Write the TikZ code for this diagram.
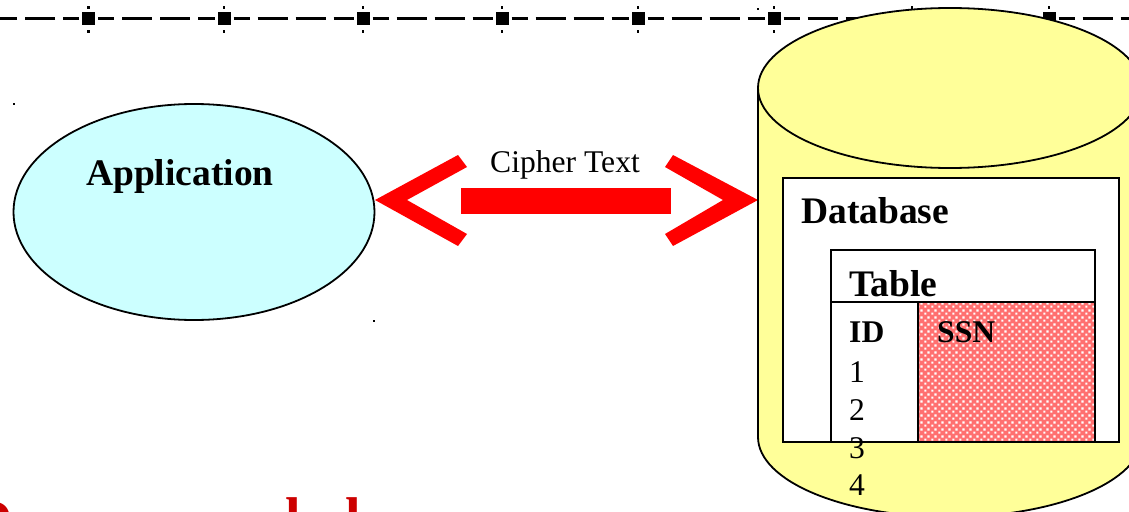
\documentclass[tikz,border=0pt]{standalone}
\usepackage{fontspec}
\setmainfont{Liberation Serif}
\usetikzlibrary{patterns,shapes.geometric}
\definecolor{appfill}{HTML}{CCFFFF}
\definecolor{dbfill}{HTML}{FFFF99}
\definecolor{arrowred}{HTML}{FF0000}
\definecolor{ssnpink}{HTML}{FF7070}
\definecolor{textred}{HTML}{CC0000}
\pgfdeclarepatternformonly{ssndots}{\pgfqpoint{0pt}{0pt}}{\pgfqpoint{7pt}{7pt}}{\pgfqpoint{7pt}{7pt}}{%
  \pgfpathrectangle{\pgfqpoint{0.4pt}{0.4pt}}{\pgfqpoint{2.4pt}{2.4pt}}%
  \pgfpathrectangle{\pgfqpoint{3.9pt}{3.9pt}}{\pgfqpoint{2.4pt}{2.4pt}}%
  \pgfusepath{fill}}
\begin{document}
\begin{tikzpicture}[x=1pt,y=-1pt,
  guide/.style={line width=3.5pt, dash pattern=on 30pt off 8pt, dash phase=14pt},
  bigtext/.style={font=\fontsize{37.5}{40}\selectfont\bfseries, inner sep=0pt, anchor=base west},
  midtext/.style={font=\fontsize{31.6}{34}\selectfont, inner sep=0pt, anchor=base west},
  midbold/.style={midtext, font=\fontsize{31.6}{34}\selectfont\bfseries},
  redglyph/.style={font=\fontsize{56}{60}\selectfont\bfseries, text=textred, inner sep=0pt, anchor=base west},
  boxline/.style={draw=black, line width=2.2pt}]
\useasboundingbox (0,0) rectangle (1129,511);
\clip (0,0) rectangle (1129,511);

% guide line with handles
\draw[guide] (79,18.6) -- (0,18.6);
\foreach \a/\b in {88.6/224,224/363,363/502,502/638,638/774,774/912,912/1049}
  \draw[guide] (\a+9.5,18.6) -- (\b-9.5,18.6);
\draw[guide] (1058.5,18.6) -- (1129,18.6);
\foreach \c in {88.6,224,363,502,638,774,912,1049} {
  \fill (\c-6.5,12.3) rectangle (\c+6.5,25.5);
  \fill (\c-1.3,6.3) rectangle (\c+1.3,9.3);
  \fill (\c-1.3,29.8) rectangle (\c+1.3,32.8);
}
% tiny corner marks
\fill (13,103) rectangle (15,105);
\fill (373,320) rectangle (375,322);
\fill (757,8) rectangle (759,10);

% application
\node (app) [ellipse, draw=black, line width=1.8pt, fill=appfill, minimum width=361pt, minimum height=216pt, inner sep=0pt] at (194,212) {};
\node (applabel) [bigtext] at (86,185) {Application};

% cipher text arrow
\fill[arrowred] (375,200) -- (458,155) -- (467,167) -- (407,200) -- (467,234) -- (458,246) -- cycle;
\fill[arrowred] (758,200) -- (673,155) -- (665,167) -- (723,200) -- (665,234) -- (673,246) -- cycle;
\fill[arrowred] (461,188) rectangle (671,214);
\node (cipher) [midtext, anchor=base] at (565,172) {Cipher Text};

% cylinder
\filldraw[fill=dbfill, draw=black, line width=1.8pt] (758,88) -- (758,437)
  arc[start angle=180, end angle=360, x radius=192pt, y radius=80pt] -- (1142,88);
\filldraw[fill=dbfill, draw=black, line width=1.8pt] (950,88) ellipse [x radius=192pt, y radius=80pt];

% database box
\node (dbbox) [boxline, fill=white, minimum width=336pt, minimum height=264pt, inner sep=0pt, anchor=north west] at (782,177) {};
\node (dblabel) [bigtext] at (801,223) {Database};

% table
\fill[ssnpink] (918,302) rectangle (1094,441);
\fill[pattern=ssndots, pattern color=white] (918,302) rectangle (1094,441);
\node (tbl) [boxline, minimum width=264pt, minimum height=192pt, inner sep=0pt, anchor=north west] at (830,249) {};
\draw[boxline] (830,302) -- (1094,302);
\draw[boxline] (918,302) -- (918,441);
\node (tbllabel) [bigtext] at (849,296) {Table};
\node (idh) [midbold] at (849,342) {ID};
\node (ssnh) [midbold] at (937,342) {SSN};
\node (r1) [midtext] at (849,382) {1};
\node (r2) [midtext] at (849,420) {2};
\node (r3) [midtext] at (849,458) {3};
\node (r4) [midtext] at (849,495) {4};

% red text cut by the lower edge
\node (rd) [redglyph] at (-28,538) {D};
\node (rl1) [redglyph] at (285,536) {l};
\node (rl2) [redglyph] at (345,536) {l};
\end{tikzpicture}
\end{document}
